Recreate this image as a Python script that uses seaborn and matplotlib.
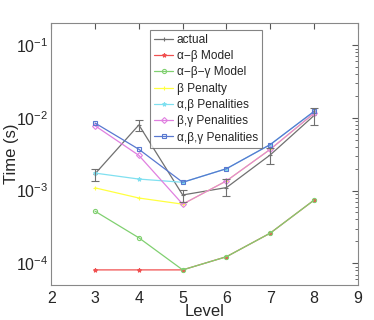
import numpy as np
import pandas as pd
import matplotlib
matplotlib.use("Agg")
import matplotlib.pyplot as plt
import seaborn as sns

levels = [3, 4, 5, 6, 7, 8]

actual = [1.7e-3, 8.0e-3, 8.7e-4, 1.1e-3, 3.1e-3, 1.08e-2]
actual_lo = [1.35e-3, 6.7e-3, 6.9e-4, 8.5e-4, 2.35e-3, 7.9e-3]
actual_hi = [2.0e-3, 9.5e-3, 1.02e-3, 1.45e-3, 3.9e-3, 1.39e-2]
ab_model = [8.1e-5, 8.1e-5, 8.1e-5, 1.23e-4, 2.6e-4, 7.4e-4]
abg_model = [5.2e-4, 2.24e-4, 8.1e-5, 1.23e-4, 2.6e-4, 7.4e-4]
b_pen = [1.09e-3, 7.9e-4, 6.5e-4, 1.36e-3, 3.7e-3, 1.16e-2]
ab_pen = [1.74e-3, 1.44e-3, 1.3e-3, 2.0e-3, 4.3e-3, 1.23e-2]
bg_pen = [7.8e-3, 3.05e-3, 6.5e-4, 1.36e-3, 3.7e-3, 1.16e-2]
abg_pen = [8.5e-3, 3.7e-3, 1.3e-3, 2.0e-3, 4.3e-3, 1.23e-2]

names = ["actual", "α−β Model", "α−β−γ Model", "β Penalty",
         "α,β Penalities", "β,γ Penalities", "α,β,γ Penalities"]
series = [actual, ab_model, abg_model, b_pen, ab_pen, bg_pen, abg_pen]
colors = ["#707070", "#f05050", "#80d070", "#ffff40", "#80e0f0", "#e080e0", "#5878d0"]
marks = ["+", "*", "o", "+", "*", "D", "s"]

rows = []
for n, s in zip(names, series):
    for lv, v in zip(levels, s):
        rows.append({"Level": lv, "Time": v, "series": n})
df = pd.DataFrame(rows)

sns.set_style("white")
plt.rcParams["font.family"] = ["Liberation Sans", "DejaVu Sans"]

fig = plt.figure(figsize=(3.74, 3.2), dpi=100)
ax = fig.add_axes([0.137, 0.109, 0.82, 0.818])

for n, c, m in zip(names, colors, marks):
    sub = df[df["series"] == n]
    sns.lineplot(data=sub, x="Level", y="Time", ax=ax, color=c, marker=m,
                 markersize=3, linewidth=0.9, label=n,
                 markerfacecolor="none" if m in "oDs" else c, markeredgecolor=c,
                 markeredgewidth=0.8)

err_lo = np.array(actual) - np.array(actual_lo)
err_hi = np.array(actual_hi) - np.array(actual)
ax.errorbar(levels, actual, yerr=[err_lo, err_hi], fmt="none", ecolor="#707070",
            elinewidth=0.8, capsize=3, capthick=0.8)

ax.set_yscale("log")
ax.set_xlim(2, 9)
ax.set_ylim(5e-5, 0.2)
ax.set_xticks(range(2, 10))
ax.set_xlabel("Level", fontsize=12, labelpad=-1)
ax.set_ylabel("Time (s)", fontsize=12)
ax.yaxis.set_label_coords(-0.105, 0.5)
ax.tick_params(axis="both", which="both", direction="in", top=True, right=True,
               labelsize=11.5, color="#555555", pad=2)
ax.tick_params(axis="x", pad=4)
ax.tick_params(which="major", length=4)
ax.tick_params(which="minor", length=2)
for sp in ax.spines.values():
    sp.set_color("#888888")
    sp.set_linewidth(0.8)

leg = ax.legend(loc="upper center", bbox_to_anchor=(0.505, 0.985), fontsize=8.6,
                frameon=True, fancybox=False, handlelength=1.6, handletextpad=0.3,
                borderpad=0.35, labelspacing=0.36, borderaxespad=0.2)
leg.get_frame().set_edgecolor("#666666")
leg.get_frame().set_linewidth(0.8)

fig.savefig("out.png", dpi=100)
